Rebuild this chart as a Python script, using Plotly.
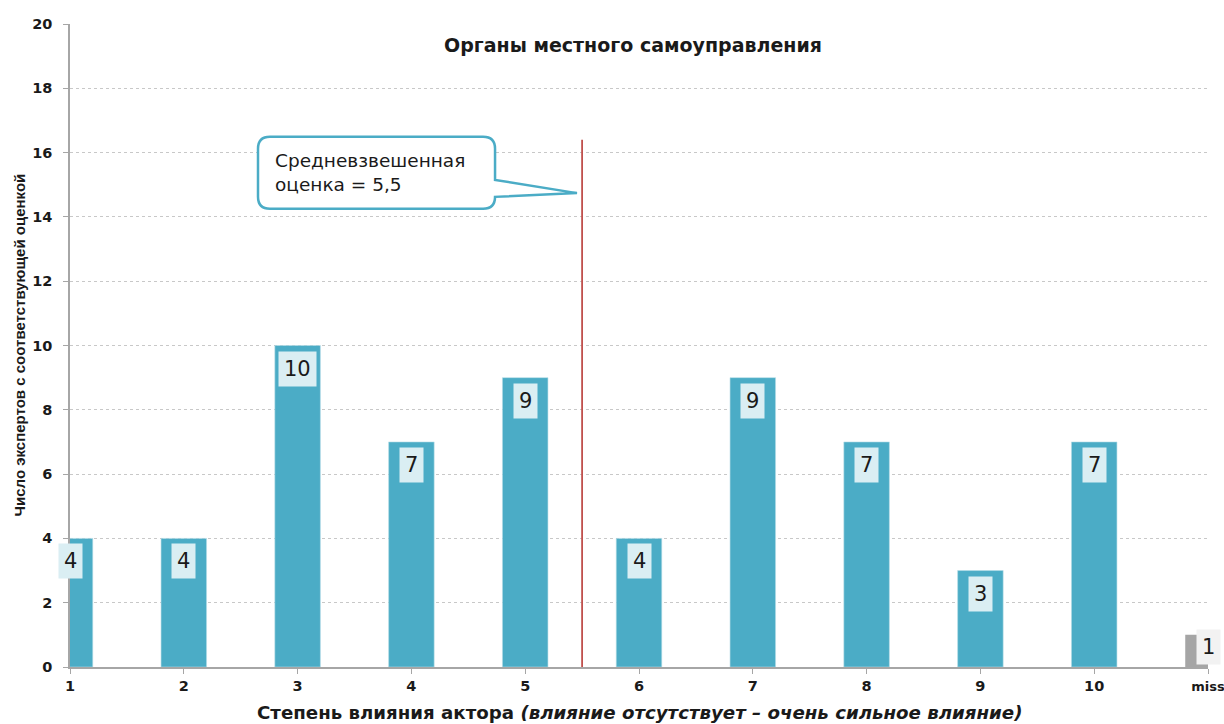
import plotly.graph_objects as go

# Ratings 1..10 and the "miss" category (placed at position 11)
categories = [1, 2, 3, 4, 5, 6, 7, 8, 9, 10]
counts = [4, 4, 10, 7, 9, 4, 9, 7, 3, 7]
miss_pos = 11
miss_count = [1]
tick_vals = [1, 2, 3, 4, 5, 6, 7, 8, 9, 10, 11]
tick_text = ["1", "2", "3", "4", "5", "6", "7", "8", "9", "10",
             "<span style='font-size:13px'>miss</span>"]
weighted_mean = 5.5
mean_label = "Средневзвешенная<br>оценка = 5,5"

BAR = "#4BACC6"
MISS = "#A5A5A5"
AXIS = "#A6A6A6"
FONT = "DejaVu Sans"

fig = go.Figure()
fig.add_bar(x=categories, y=counts, width=0.4, marker=dict(color=BAR, line=dict(color="#B7DEE8", width=0.6)),
            hoverinfo="skip")
fig.add_bar(x=[miss_pos], y=miss_count, width=0.4, marker=dict(color=MISS, line=dict(width=0)),
            hoverinfo="skip")

# value boxes at the top of each bar
for xv, yv in zip(categories, counts):
    fig.add_annotation(x=xv, y=yv, text=str(yv), showarrow=False, xanchor="center", yanchor="top",
                       yshift=-5, bgcolor="#DAEEF3", borderpad=5,
                       font=dict(family=FONT, size=21, color="#1a1a1a"))
fig.add_annotation(x=miss_pos, y=miss_count[0], text=str(miss_count[0]), showarrow=False,
                   xanchor="center", yanchor="top", yshift=6, bgcolor="#F2F2F2", borderpad=5,
                   font=dict(family=FONT, size=21, color="#1a1a1a"))

# weighted mean marker line
fig.add_shape(type="line", x0=weighted_mean, x1=weighted_mean, y0=0, y1=16.4, xref="x", yref="y",
              line=dict(color="#C0504D", width=1.8), layer="above")

# speech-bubble callout pointing at the mean line
bx0, bx1, by0, by1 = 2.652, 4.735, 14.25, 16.49
rx, ry = 0.105, 0.373
tip_x, tip_y = weighted_mean - 0.045, 14.74
path = (
    f"M {bx0 + rx},{by1} L {bx1 - rx},{by1} Q {bx1},{by1} {bx1},{by1 - ry} "
    f"L {bx1},{15.15} L {tip_x},{tip_y} L {bx1},{by0 + ry} "
    f"Q {bx1},{by0} {bx1 - rx},{by0} L {bx0 + rx},{by0} Q {bx0},{by0} {bx0},{by0 + ry} "
    f"L {bx0},{by1 - ry} Q {bx0},{by1} {bx0 + rx},{by1} Z"
)
fig.add_shape(type="path", path=path, xref="x", yref="y", fillcolor="white",
              line=dict(color=BAR, width=2.5), layer="above")
fig.add_annotation(x=bx0 + 0.13, y=(by0 + by1) / 2, text=mean_label, showarrow=False, xanchor="left",
                   yanchor="middle", align="left", font=dict(family=FONT, size=18.5, color="#1a1a1a"))

# chart title inside the plot area
fig.add_annotation(x=0.495, y=0.967, xref="paper", yref="paper", text="<b>Органы местного самоуправления</b>",
                   showarrow=False, xanchor="center", yanchor="middle",
                   font=dict(family=FONT, size=19, color="#1a1a1a"))

# axis titles
fig.add_annotation(x=0.5, y=-0.0705, xref="paper", yref="paper",
                   text="<b>Степень влияния актора <i>(влияние отсутствует – очень сильное влияние)</i></b>",
                   showarrow=False, xanchor="center", yanchor="middle",
                   font=dict(family=FONT, size=18.2, color="#1a1a1a"))
fig.add_annotation(x=-0.0448, y=0.5, xref="paper", yref="paper",
                   text="<b>Число экспертов с соответствующей оценкой</b>", textangle=-90,
                   showarrow=False, xanchor="center", yanchor="middle",
                   font=dict(family="Liberation Sans", size=15, color="#1a1a1a"))

fig.update_layout(
    width=1224, height=724,
    margin=dict(l=70, r=16, t=24, b=57),
    paper_bgcolor="white", plot_bgcolor="white",
    showlegend=False, barmode="overlay",
)
fig.update_xaxes(range=[1, 11], tickvals=tick_vals, ticktext=tick_text, showgrid=False,
                 showline=True, linecolor=AXIS, linewidth=1.5, ticks="outside", ticklen=5,
                 tickcolor=AXIS, zeroline=False, ticklabeloverflow="allow", automargin=False,
                 tickfont=dict(family=FONT, size=14.5, color="#1a1a1a", weight="bold"))
fig.update_yaxes(range=[0, 20], dtick=2, showgrid=True, gridcolor="#C8C8C8", griddash="3px,3px",
                 gridwidth=1, showline=True, linecolor=AXIS, linewidth=1.5, ticks="outside",
                 ticklen=5, tickcolor=AXIS, zeroline=False, ticklabelstandoff=8, automargin=False,
                 tickfont=dict(family=FONT, size=14.5, color="#1a1a1a", weight="bold"))

fig.write_html("out.html")
